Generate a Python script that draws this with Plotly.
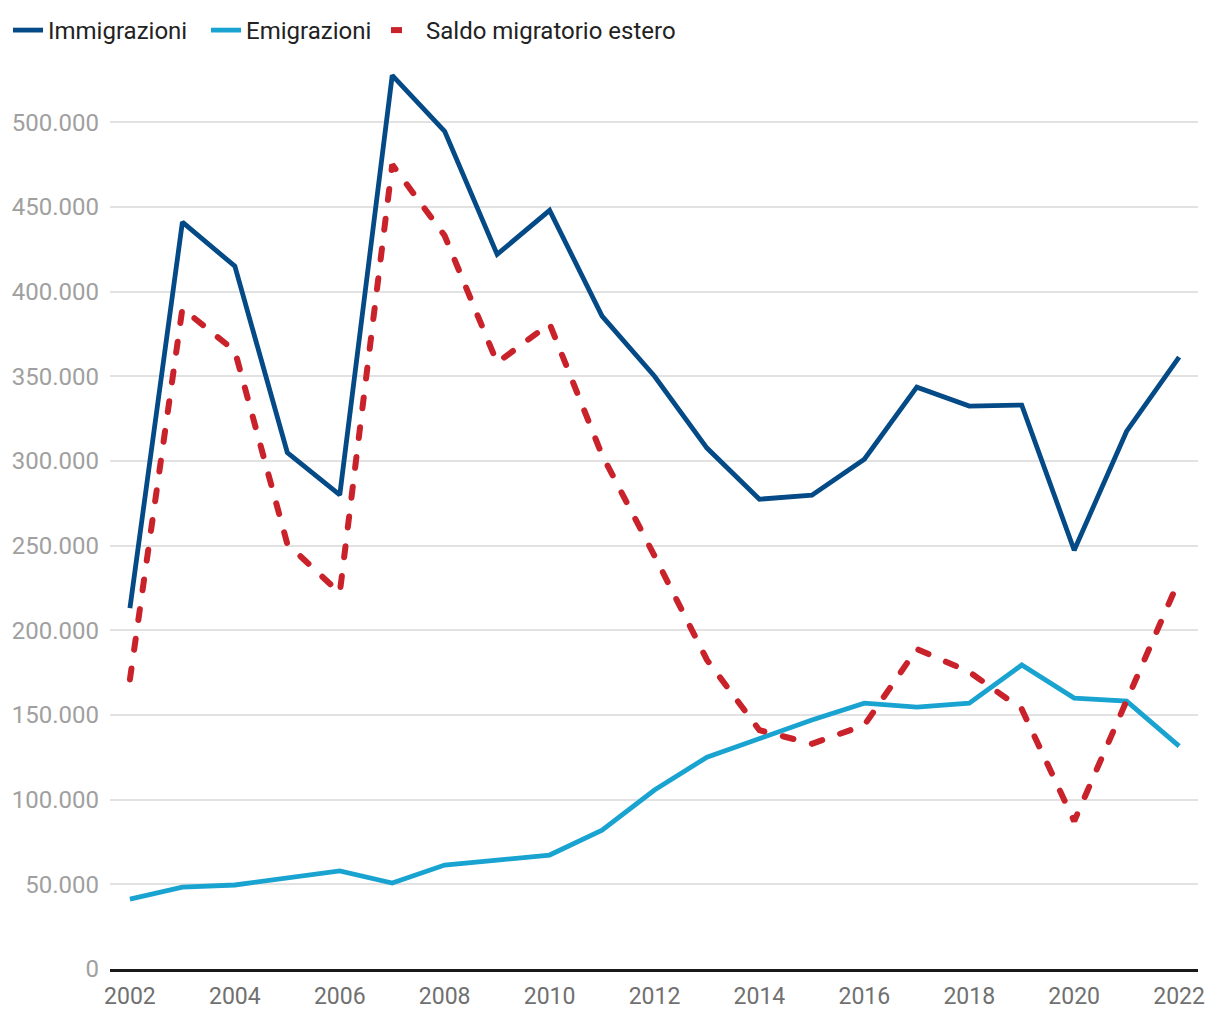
import plotly.graph_objects as go

years = list(range(2002, 2023))
immigrazioni = [213100, 441000, 415000, 305000, 280000, 527700, 494700, 422000, 448000, 385500,
                350000, 307600, 277400, 279800, 301000, 343600, 332400, 333000, 247300, 317600, 361300]
emigrazioni = [41300, 48400, 49600, 53700, 57900, 50800, 61400, 64300, 67300, 82000,
               105700, 125100, 136400, 147000, 157000, 154700, 157000, 179500, 160000, 158200, 131600]
saldo = [171000, 390000, 365000, 251000, 222000, 475000, 433000, 358000, 381000, 303500,
         244000, 182500, 141000, 133000, 144000, 189000, 175400, 153500, 87300, 159400, 229700]

y_tickvals = [0, 50000, 100000, 150000, 200000, 250000, 300000, 350000, 400000, 450000, 500000]
y_ticktext = ["0", "50.000", "100.000", "150.000", "200.000", "250.000", "300.000",
              "350.000", "400.000", "450.000", "500.000"]
x_tickvals = list(range(2002, 2023, 2))

fig = go.Figure()
fig.add_trace(go.Scatter(x=years, y=immigrazioni, mode="lines", name="Immigrazioni",
                         line=dict(color="#034a86", width=4.8), legendwidth=153))
fig.add_trace(go.Scatter(x=years, y=emigrazioni, mode="lines", name="Emigrazioni",
                         line=dict(color="#19a3d1", width=4.8), legendwidth=135))
fig.add_trace(go.Scatter(x=years, y=saldo, mode="lines", name="Saldo migratorio estero",
                         line=dict(color="#c9222a", width=6, dash="11px,19px")))

fig.update_layout(
    width=1212, height=1012,
    margin=dict(l=102, r=22, t=55, b=51),
    paper_bgcolor="white", plot_bgcolor="white",
    font=dict(family="Roboto", size=24, color="#222222"),
    showlegend=True,
    legend=dict(orientation="h", xref="container", yref="container", x=-0.0025, y=1.0,
                xanchor="left", yanchor="top", font=dict(size=24, color="#222222"),
                itemwidth=30, tracegroupgap=0),
    xaxis=dict(range=[2001.62, 2022.36], tickvals=x_tickvals, showgrid=False,
               zeroline=False, showline=True, linecolor="#1a1a1a", linewidth=2.5,
               ticks="", tickfont=dict(size=23, color="#707070"), ticklabelstandoff=5,
               automargin=False),
    yaxis=dict(range=[0, 535000], tickvals=y_tickvals, ticktext=y_ticktext,
               showgrid=True, gridcolor="#e2e2e2", gridwidth=1.5, zeroline=False,
               ticks="", tickfont=dict(size=24, color="#a0a0a0"), ticklabelstandoff=10,
               automargin=False),
)

post = ("document.querySelectorAll('.scatterlayer .trace:nth-child(3) .js-line')"
        ".forEach(function(p){p.style.strokeLinecap='round';});")
fig.write_html("out.html", post_script=post)
